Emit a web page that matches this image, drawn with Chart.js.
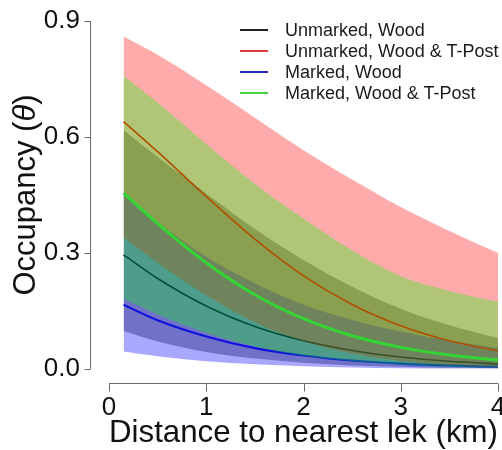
<!DOCTYPE html>
<html lang="en">
<head>
  <meta charset="UTF-8" />
  <title>Occupancy vs distance to nearest lek</title>
  <script src="https://cdn.jsdelivr.net/npm/chart.js"></script>
  <style>
    body {
      margin: 0;
      background: #fff;
      font-family: "Liberation Sans", Arial, sans-serif;
    }
    .wrap {
      position: relative;
      width: 502px;
      height: 450px;
    }
    .legend {
      position: absolute;
      left: 240px;
      top: 20px;
      font-size: 18px;
      color: #1a1a1a;
    }
    .legend div {
      height: 21px;
      line-height: 21px;
      white-space: nowrap;
    }
    .legend span {
      display: inline-block;
      width: 28px;
      height: 2px;
      margin-right: 17px;
      vertical-align: middle;
      position: relative;
      top: -1px;
    }
  </style>
</head>
<body>
  <div class="wrap">
    <canvas id="chart" width="502" height="450"></canvas>
    <div class="legend" id="legend"></div>
  </div>

  <script>
    // distance to nearest lek (km)
    const distKm = [0.15, 0.5, 1, 1.5, 2, 2.5, 3, 3.5, 4];

    // Unmarked, Wood & T-Post (red)
    const uwtMean  = [0.640, 0.562, 0.446, 0.336, 0.241, 0.167, 0.112, 0.073, 0.047];
    const uwtUpper = [0.860, 0.813, 0.734, 0.650, 0.566, 0.490, 0.419, 0.357, 0.300];
    const uwtLower = [0.340, 0.275, 0.191, 0.121, 0.072, 0.040, 0.021, 0.011, 0.006];

    // Unmarked, Wood (black)
    const uwMean  = [0.295, 0.234, 0.163, 0.110, 0.073, 0.048, 0.031, 0.020, 0.013];
    const uwUpper = [0.618, 0.548, 0.454, 0.362, 0.282, 0.213, 0.156, 0.113, 0.080];
    const uwLower = [0.098, 0.071, 0.044, 0.027, 0.016, 0.009, 0.006, 0.003, 0.002];

    // Marked, Wood (blue)
    const mwMean  = [0.166, 0.126, 0.084, 0.054, 0.035, 0.022, 0.014, 0.009, 0.006];
    const mwUpper = [0.457, 0.381, 0.290, 0.222, 0.166, 0.127, 0.097, 0.073, 0.054];
    const mwLower = [0.045, 0.033, 0.020, 0.012, 0.007, 0.004, 0.002, 0.001, 0.001];

    // Marked, Wood & T-Post (green)
    const mwtMean  = [0.455, 0.376, 0.275, 0.192, 0.130, 0.086, 0.056, 0.036, 0.023];
    const mwtUpper = [0.758, 0.689, 0.582, 0.479, 0.389, 0.307, 0.240, 0.202, 0.174];
    const mwtLower = [0.182, 0.141, 0.094, 0.058, 0.034, 0.020, 0.011, 0.005, 0.003];

    const xTicks = [0, 1, 2, 3, 4];
    const yTicks = [0.0, 0.3, 0.6, 0.9];

    const legendItems = [
      { label: "Unmarked, Wood", color: "#222222" },
      { label: "Unmarked, Wood & T-Post", color: "#e23b3b" },
      { label: "Marked, Wood", color: "#2a2ab8" },
      { label: "Marked, Wood & T-Post", color: "#44d044" }
    ];

    const pts = arr => distKm.map((x, i) => ({ x: x, y: arr[i] }));

    const hidden = (arr, order) => ({
      data: pts(arr),
      borderColor: "transparent",
      borderWidth: 0,
      pointRadius: 0,
      fill: false,
      order: order
    });

    const band = (arr, lowerIndex, color, order) => ({
      data: pts(arr),
      borderColor: "transparent",
      borderWidth: 0,
      pointRadius: 0,
      backgroundColor: color,
      fill: lowerIndex,
      order: order
    });

    const line = (arr, color, width, order) => ({
      data: pts(arr),
      borderColor: color,
      borderWidth: width,
      pointRadius: 0,
      fill: false,
      order: order
    });

    // R-style detached axes + y title with italic theta
    const rAxes = {
      id: "rAxes",
      afterDraw(chart) {
        const ctx = chart.ctx;
        const xs = chart.scales.x;
        const ys = chart.scales.y;
        ctx.save();
        ctx.strokeStyle = "#6a6a6a";
        ctx.lineWidth = 1;

        // y axis
        const ax = 90.5;
        ctx.beginPath();
        ctx.moveTo(ax, ys.getPixelForValue(yTicks[0]));
        ctx.lineTo(ax, ys.getPixelForValue(yTicks[yTicks.length - 1]));
        yTicks.forEach(v => {
          const p = Math.round(ys.getPixelForValue(v)) + 0.5;
          ctx.moveTo(ax, p);
          ctx.lineTo(ax - 6, p);
        });
        ctx.stroke();

        // x axis
        const ay = 383.5;
        ctx.beginPath();
        ctx.moveTo(xs.getPixelForValue(xTicks[0]), ay);
        ctx.lineTo(xs.getPixelForValue(xTicks[xTicks.length - 1]), ay);
        xTicks.forEach(v => {
          const p = Math.round(xs.getPixelForValue(v)) + 0.5;
          ctx.moveTo(p, ay);
          ctx.lineTo(p, ay + 8);
        });
        ctx.stroke();

        // y title
        const cy = (ys.top + ys.bottom) / 2;
        ctx.translate(26, cy);
        ctx.rotate(-Math.PI / 2);
        ctx.fillStyle = "#111";
        ctx.textBaseline = "middle";
        const normal = '31px "Liberation Sans", Arial, sans-serif';
        const italic = 'italic 31px "Liberation Sans", Arial, sans-serif';
        const parts = [["Occupancy (", normal], ["\u03B8", italic], [")", normal]];
        let total = 0;
        parts.forEach(p => { ctx.font = p[1]; total += ctx.measureText(p[0]).width; });
        let x = -total / 2;
        parts.forEach(p => {
          ctx.font = p[1];
          ctx.fillText(p[0], x, 0);
          x += ctx.measureText(p[0]).width;
        });
        ctx.restore();
      }
    };

    // drawing order (bottom to top): black, blue, red, green
    new Chart(document.getElementById("chart"), {
      type: "line",
      data: {
        datasets: [
          band(uwUpper, 1, "rgba(0,0,0,0.33)", 12),
          hidden(uwLower, 12),
          line(uwMean, "#000000", 1.6, 11),
          band(mwUpper, 4, "rgba(0,0,255,0.34)", 10),
          hidden(mwLower, 10),
          line(mwMean, "#1010e0", 2.2, 9),
          band(uwtUpper, 7, "rgba(255,0,0,0.33)", 8),
          hidden(uwtLower, 8),
          line(uwtMean, "#ff0000", 1.6, 7),
          band(mwtUpper, 10, "rgba(0,255,0,0.31)", 6),
          hidden(mwtLower, 6),
          line(mwtMean, "#33d633", 3, 5)
        ]
      },
      options: {
        responsive: false,
        animation: false,
        devicePixelRatio: 1,
        layout: { padding: { top: 21, right: 4, left: 0, bottom: 0 } },
        elements: { line: { cubicInterpolationMode: "monotone" } },
        plugins: {
          legend: { display: false },
          tooltip: { enabled: false }
        },
        scales: {
          x: {
            type: "linear",
            min: 0,
            max: 4,
            grid: { display: false, drawTicks: false },
            border: { display: false },
            ticks: {
              stepSize: 1,
              padding: 23,
              maxRotation: 0,
              color: "#111",
              font: { family: '"Liberation Sans", Arial, sans-serif', size: 26 }
            },
            title: {
              display: true,
              text: "Distance to nearest lek (km)",
              color: "#111",
              padding: { top: 0, bottom: 1 },
              font: { family: '"Liberation Sans", Arial, sans-serif', size: 32, lineHeight: 1 }
            },
            afterFit(s) {
              s.height = 81;
              s.paddingLeft = 0;
              s.paddingRight = 0;
            }
          },
          y: {
            min: 0,
            max: 0.9,
            grid: { display: false, drawTicks: false },
            border: { display: false },
            ticks: {
              stepSize: 0.3,
              padding: 29,
              color: "#111",
              font: { family: '"Liberation Sans", Arial, sans-serif', size: 26 },
              callback: v => Number(v).toFixed(1)
            },
            afterFit(s) {
              s.width = 109;
              s.paddingTop = 0;
              s.paddingBottom = 0;
            }
          }
        }
      },
      plugins: [rAxes]
    });

    const legendEl = document.getElementById("legend");
    legendItems.forEach(item => {
      const row = document.createElement("div");
      const sw = document.createElement("span");
      sw.style.background = item.color;
      row.appendChild(sw);
      row.appendChild(document.createTextNode(item.label));
      legendEl.appendChild(row);
    });
  </script>
</body>
</html>
